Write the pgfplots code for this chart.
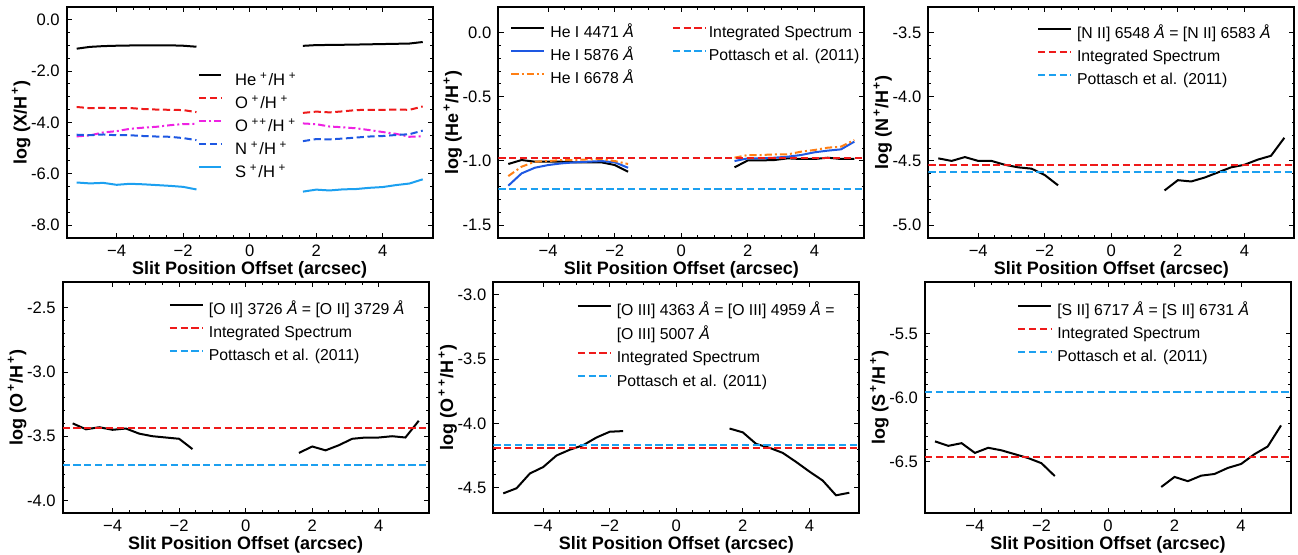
\documentclass[border=0pt]{standalone}
\usepackage{pgfplots}
\usepackage{pgfplotstable}
\pgfplotsset{compat=1.18}
\usepackage{fontspec}
\setmainfont{Liberation Sans}

\definecolor{cred}{RGB}{238,26,26}
\definecolor{cpott}{RGB}{28,160,240}
\definecolor{cblue}{RGB}{30,88,226}
\definecolor{corange}{RGB}{255,127,20}
\definecolor{cmag}{RGB}{238,34,226}

% slit positions (arcsec); nan row breaks the lines at the centre
\pgfplotstableread{
x     he4471  he5876  he6678  he      op      opp     np     sp
-5.2  -1.024  -1.193  -1.118  -1.130  -3.400  -4.545  -4.48  -6.340
-4.8  -0.993  -1.097  -1.045  -1.060  -3.446  -4.505  -4.50  -6.375
-4.4  -1.006  -1.053  -1.006  -1.030  -3.430  -4.390  -4.47  -6.354
-4.0  -1.006  -1.032  -1.001  -1.015  -3.450  -4.340  -4.50  -6.430
-3.6  -1.006  -1.019  -0.993  -1.006  -3.440  -4.250  -4.50  -6.390
-3.2  -1.011  -1.011  -0.993  -1.005  -3.480  -4.205  -4.53  -6.410
-2.8  -1.011  -1.006  -0.988  -1.002  -3.500  -4.170  -4.55  -6.440
-2.4  -1.011  -1.001  -0.985  -0.999  -3.510  -4.110  -4.56  -6.470
-2.0  -1.032  -1.011  -1.001  -1.015  -3.520  -4.065  -4.61  -6.510
-1.6  -1.084  -1.053  -1.024  -1.054  -3.600  -4.060  -4.69  -6.610
 0.0   nan     nan     nan     nan     nan     nan     nan    nan
 1.6  -1.050  -1.001  -0.975  -1.020  -3.630  -4.040  -4.73  -6.695
 2.0  -0.996  -0.980  -0.954  -0.990  -3.580  -4.070  -4.65  -6.617
 2.4  -0.996  -0.980  -0.954  -0.985  -3.610  -4.160  -4.66  -6.650
 2.8  -0.993  -0.975  -0.949  -0.978  -3.570  -4.190  -4.63  -6.607
 3.2  -0.980  -0.967  -0.949  -0.970  -3.520  -4.230  -4.59  -6.594
 3.6  -0.985  -0.954  -0.928  -0.960  -3.510  -4.300  -4.55  -6.547
 4.0  -0.985  -0.933  -0.915  -0.950  -3.510  -4.375  -4.53  -6.516
 4.4  -0.975  -0.920  -0.897  -0.940  -3.500  -4.445  -4.49  -6.440
 4.8  -0.985  -0.910  -0.889  -0.930  -3.510  -4.560  -4.46  -6.380
 5.2  -0.985  -0.850  -0.837  -0.870  -3.380  -4.540  -4.32  -6.216
}\slit

\pgfplotsset{
  panel/.style={
    scale only axis, width=183pt, height=115.6pt,
    xmin=-5.5, xmax=5.5,
    xtick={-4,-2,0,2,4}, xticklabels={−4,−2,0,2,4},
    minor x tick num=3, minor y tick num=4,
    tick align=inside, xtick pos=both, ytick pos=both,
    major tick length=2.6pt, minor tick length=1.4pt,
    every tick/.style={black, line width=0.5pt},
    axis line style={line width=1pt},
    tick label style={font=\fontsize{8.3}{9}\selectfont},
    label style={font=\fontsize{9}{10}\selectfont\bfseries},
    xlabel={Slit Position Offset (arcsec)},
    xlabel style={at={(axis description cs:0.5,-0.138)}, anchor=center},
    ylabel style={at={(axis description cs:-0.1245,0.5)}, anchor=center},
    unbounded coords=jump,
    legend cell align=left,
    legend style={draw=none, fill=none, inner sep=0pt, anchor=north west,
      font=\fontsize{7.9}{9}\selectfont, row sep=1.4pt,
      nodes={inner sep=1pt, text height=6.1pt, text depth=2pt},
      /tikz/column 1/.style={column sep=1.5pt}},
    legend image code/.code={\draw[##1] (0pt,2.9pt) -- (16.5pt,2.9pt);},
    every axis plot/.append style={line width=1pt},
  },
  shortleg/.style={legend image code/.code={\draw[##1] (0pt,2.9pt) -- (11pt,2.9pt);}},
  dsh/.style={dash pattern=on 3.6pt off 1.8pt},
  dshdot/.style={dash pattern=on 3.6pt off 1.5pt on 1pt off 1.5pt},
}
\newcommand{\p}{\hspace{0.1em}\textsuperscript{+}}
\newcommand{\q}{\hspace{0.22em}\textsuperscript{+}\hspace{0.05em}}
\newcommand{\qq}{\hspace{0.22em}\textsuperscript{+\hspace{0.08em}+}\hspace{0.05em}}
\newcommand{\A}{\textit{Å}}

\begin{document}
\begin{tikzpicture}
\useasboundingbox (0,0) rectangle (649pt,277.5pt);

% ---- top left: all ions
\begin{axis}[panel, shortleg, at={(33.35pt,158.5pt)}, anchor=south west,
  ymin=-8.5, ymax=0.5, ytick={0,-2,-4,-6,-8},
  yticklabels={0.0,-2.0,-4.0,-6.0,-8.0}, minor y tick num=3,
  ylabel={log (X/H\p)},
  legend style={at={(0.358,0.724)}, font=\fontsize{8.3}{9}\selectfont,
    /tikz/column 1/.style={column sep=5.5pt}}]
\addplot[black] table[x=x,y=he] {\slit};
\addlegendentry{He\q/H\q}
\addplot[cred, dsh] table[x=x,y=op] {\slit};
\addlegendentry{O\q/H\q}
\addplot[cmag, dshdot] table[x=x,y=opp] {\slit};
\addlegendentry{O\qq/H\q}
\addplot[cblue, dsh] table[x=x,y=np] {\slit};
\addlegendentry{N\q/H\q}
\addplot[cpott] table[x=x,y=sp] {\slit};
\addlegendentry{S\q/H\q}
\end{axis}

% ---- top middle: He+
\begin{axis}[panel, at={(249.15pt,158.5pt)}, anchor=south west,
  ymin=-1.6, ymax=0.2, ytick={0,-0.5,-1,-1.5},
  yticklabels={0.0,-0.5,-1.0,-1.5},
  ylabel={log (He\p/H\p)},
  legend columns=3, transpose legend,
  legend style={at={(0.032,0.929)}, /tikz/column 2/.style={column sep=18pt}}]
\addplot[black] table[x=x,y=he4471] {\slit};
\addlegendentry{He I 4471 \A}
\addplot[cblue] table[x=x,y=he5876] {\slit};
\addlegendentry{He I 5876 \A}
\addplot[corange, dshdot] table[x=x,y=he6678] {\slit};
\addlegendentry{He I 6678 \A}
\addplot[cred, dsh] coordinates {(-5.5,-0.975)(5.5,-0.975)};
\addlegendentry{Integrated Spectrum}
\addplot[cpott, dsh] coordinates {(-5.5,-1.219)(5.5,-1.219)};
\addlegendentry{Pottasch et al. (2011)}
\end{axis}

% ---- top right: N+
\begin{axis}[panel, at={(464.15pt,158.5pt)}, anchor=south west,
  ymin=-5.1, ymax=-3.3, ytick={-3.5,-4,-4.5,-5},
  yticklabels={-3.5,-4.0,-4.5,-5.0},
  ylabel={log (N\p/H\p)},
  legend style={at={(0.296,0.925)}}]
\addplot[black] table[x=x,y=np] {\slit};
\addlegendentry{[N II] 6548 \A{} = [N II] 6583 \A}
\addplot[cred, dsh] coordinates {(-5.5,-4.535)(5.5,-4.535)};
\addlegendentry{Integrated Spectrum}
\addplot[cpott, dsh] coordinates {(-5.5,-4.585)(5.5,-4.585)};
\addlegendentry{Pottasch et al. (2011)}
\end{axis}

% ---- bottom left: O+
\begin{axis}[panel, at={(31.35pt,20.85pt)}, anchor=south west,
  ymin=-4.1, ymax=-2.3, ytick={-2.5,-3,-3.5,-4},
  yticklabels={-2.5,-3.0,-3.5,-4.0},
  ylabel={log (O\p/H\p)},
  legend style={at={(0.289,0.923)}}]
\addplot[black] table[x=x,y=op] {\slit};
\addlegendentry{[O II] 3726 \A{} = [O II] 3729 \A}
\addplot[cred, dsh] coordinates {(-5.5,-3.436)(5.5,-3.436)};
\addlegendentry{Integrated Spectrum}
\addplot[cpott, dsh] coordinates {(-5.5,-3.722)(5.5,-3.722)};
\addlegendentry{Pottasch et al. (2011)}
\end{axis}

% ---- bottom middle: O++
\begin{axis}[panel, at={(246.65pt,20.85pt)}, anchor=south west,
  ymin=-4.7, ymax=-2.9, ytick={-3,-3.5,-4,-4.5},
  yticklabels={-3.0,-3.5,-4.0,-4.5},
  ylabel={log (O\p\p/H\p)},
  legend style={at={(0.227,0.917)}, row sep=1.6pt}]
\addplot[black] table[x=x,y=opp] {\slit};
\addlegendentry{[O III] 4363 \A{} = [O III] 4959 \A{} =}
\addlegendimage{empty legend}
\addlegendentry{[O III] 5007 \A}
\addplot[cred, dsh] coordinates {(-5.5,-4.19)(5.5,-4.19)};
\addlegendentry{Integrated Spectrum}
\addplot[cpott, dsh] coordinates {(-5.5,-4.168)(5.5,-4.168)};
\addlegendentry{Pottasch et al. (2011)}
\end{axis}

% ---- bottom right: S+
\begin{axis}[panel, at={(462.5pt,20.85pt)}, anchor=south west,
  ymin=-6.9, ymax=-5.1, ytick={-5.5,-6,-6.5},
  yticklabels={-5.5,-6.0,-6.5},
  ylabel={log (S\p/H\p)},
  legend style={at={(0.251,0.917)}}]
\addplot[black] table[x=x,y=sp] {\slit};
\addlegendentry{[S II] 6717 \A{} = [S II] 6731 \A}
\addplot[cred, dsh] coordinates {(-5.5,-6.458)(5.5,-6.458)};
\addlegendentry{Integrated Spectrum}
\addplot[cpott, dsh] coordinates {(-5.5,-5.958)(5.5,-5.958)};
\addlegendentry{Pottasch et al. (2011)}
\end{axis}
\end{tikzpicture}
\end{document}
